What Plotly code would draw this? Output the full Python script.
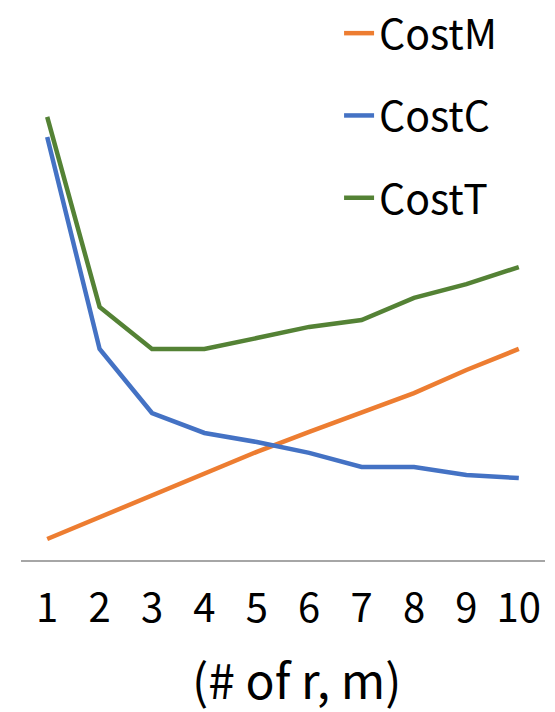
import plotly.graph_objects as go

# Number of (r, m) pairs on the category axis
categories = [1, 2, 3, 4, 5, 6, 7, 8, 9, 10]

# Cost components for each configuration
cost_m = [1.00, 2.05, 3.10, 4.10, 5.15, 6.10, 7.00, 7.95, 9.05, 10.05]
cost_c = [20.14, 10.05, 7.00, 6.05, 5.62, 5.10, 4.43, 4.43, 4.05, 3.90]
cost_t = [21.10, 12.05, 10.05, 10.05, 10.57, 11.10, 11.43, 12.48, 13.14, 13.95]

series = [
    ("CostM", cost_m, "#ED7D31"),
    ("CostC", cost_c, "#4472C4"),
    ("CostT", cost_t, "#548235"),
]

FONT = "Noto Sans CJK JP"

fig = go.Figure()
for name, values, color in series:
    fig.add_trace(go.Scatter(
        x=categories, y=values, name=name, mode="lines",
        line=dict(color=color, width=4.5),
        legendgroup=name,
    ))

fig.update_layout(
    width=555, height=712,
    margin=dict(l=21, r=10, t=0, b=152, autoexpand=False),
    paper_bgcolor="white", plot_bgcolor="white",
    showlegend=True,
    legend=dict(
        x=0.607, y=1.0, xanchor="left", yanchor="top",
        font=dict(family=FONT, size=41, color="#000000"),
        tracegroupgap=26, bgcolor="rgba(0,0,0,0)",
    ),
    xaxis=dict(
        range=[0.5, 10.5], tickmode="array", tickvals=categories,
        ticktext=[str(c) for c in categories],
        showgrid=False, zeroline=False, showline=True,
        linecolor="#A6A6A6", linewidth=1.5,
        ticks="", ticklabelstandoff=12,
        tickfont=dict(family=FONT, size=40, color="#000000"),
    ),
    yaxis=dict(
        range=[0, 560 / 21], showgrid=False, zeroline=False,
        showline=False, showticklabels=False,
    ),
    annotations=[dict(
        text="(# of r, m)", xref="paper", yref="paper",
        x=0.525, y=-0.211, xanchor="center", yanchor="middle",
        showarrow=False,
        font=dict(family=FONT, size=48, color="#000000"),
    )],
)

fig.write_html("out.html")
